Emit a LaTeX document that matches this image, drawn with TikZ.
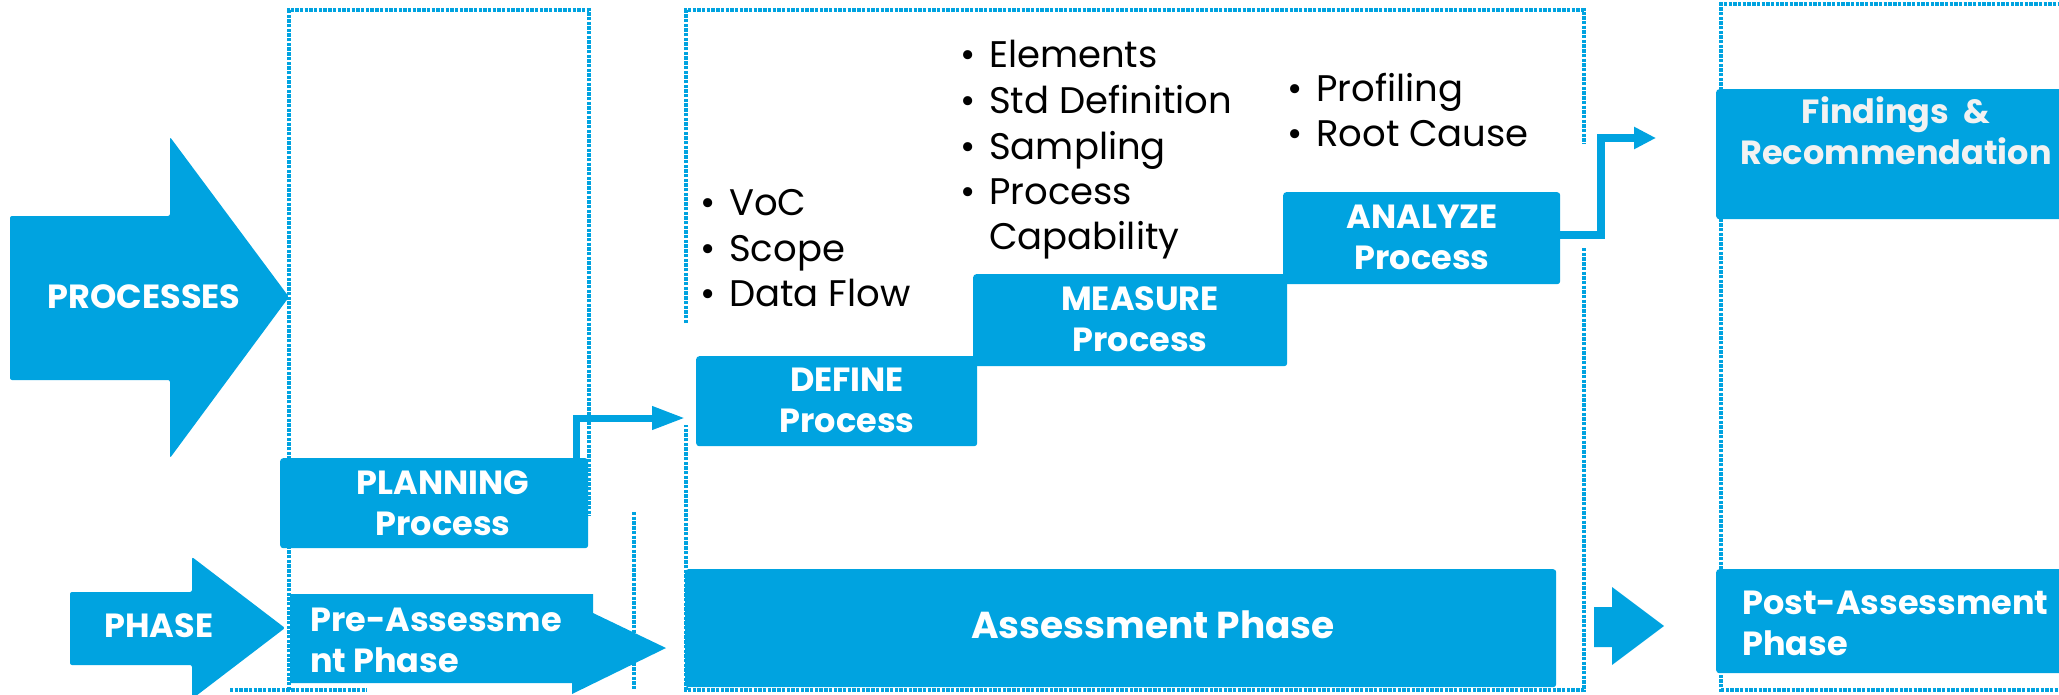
\documentclass[tikz,border=0pt]{standalone}
\usepackage{fontspec}
\setmainfont{Poppins}
\usetikzlibrary{arrows.meta,calc}
\definecolor{brand}{HTML}{00A3E0}
\definecolor{offwhite}{HTML}{F2F2F2}
\newcommand{\bl}{\makebox[29pt][l]{•}}
\begin{document}
\begin{tikzpicture}[x=1pt,y=-1pt,
  dots/.style={brand, line width=3.6pt, dash pattern=on 3.4pt off 1.3pt},
  bluebox/.style={fill=brand, draw=none, rounded corners=3pt, inner sep=0pt, anchor=north west},
  lbl/.style={text=white, font=\fontsize{33.5}{41}\selectfont\bfseries, align=center, inner sep=0pt},
  lbll/.style={lbl, align=left, anchor=west},
  blt/.style={text=black, font=\fontsize{37}{45}\selectfont, anchor=base west, inner sep=0pt},
  conn/.style={brand, line width=7pt},
  bigarrow/.style={fill=brand, draw=none, rounded corners=2pt}]
\useasboundingbox (0,0) rectangle (2059,694);

% dotted frames
\draw[dots] (289,690) -- (289,10) -- (589,10) -- (589,516);
\draw[dots] (230,690) -- (367,690);
\draw[dots] (634,512) -- (634,690);
\draw[dots] (686,323) -- (686,10) -- (1584,10) -- (1584,144);
\draw[dots] (1584,248) -- (1584,690) -- (686,690) -- (686,425);
\draw[dots] (1721,692) -- (1721,4) -- (2059,4);
\draw[dots] (1721,690) -- (2059,690);

% big arrows
\fill[bigarrow] (10,216) -- (170,216) -- (170,137) -- (289,297) -- (170,458) -- (170,380) -- (10,380) -- cycle;
\node[lbl] (processes) at (144,297) {PROCESSES};
\fill[bigarrow] (70,592) -- (192,592) -- (192,557) -- (285,628) -- (192,699) -- (192,665) -- (70,665) -- cycle;
\node[lbl] (phase) at (159,626) {PHASE};
\fill[brand] (290,594) -- (593,594) -- (593,613) -- (666,648) -- (572,694) -- (572,683) -- (290,683) -- cycle;
\node[lbll] (pre) at (310,640) {Pre-Assessme\\nt Phase};
\fill[brand] (1594,607) -- (1612,607) -- (1612,587) -- (1664,626) -- (1612,665) -- (1612,647) -- (1594,647) -- cycle;

% boxes
\node[bluebox, minimum width=308pt, minimum height=90pt] (plan) at (280,458) {};
\node[lbl] (plant) at (443,503) {PLANNING\\Process};
\node[bluebox, minimum width=281pt, minimum height=90pt] (def) at (696,356) {};
\node[lbl] (deft) at (847,400) {DEFINE\\Process};
\node[bluebox, minimum width=314pt, minimum height=92pt] (mea) at (973,274) {};
\node[lbl] (meat) at (1140,319) {MEASURE\\Process};
\node[bluebox, minimum width=277pt, minimum height=92pt] (an) at (1283,192) {};
\node[lbl] (ant) at (1422,237) {ANALYZE\\Process};
\node[bluebox, minimum width=871pt, minimum height=118pt] (ass) at (685,569) {};
\node[lbl, font=\fontsize{37.5}{41}\selectfont\bfseries] (asst) at (1153,625) {Assessment Phase};
\node[bluebox, minimum width=360pt, minimum height=130pt] (find) at (1716,89) {};
\node[lbl, text=offwhite] (findt) at (1896,131) {Findings\ \ \&\\Recommendation};
\node[bluebox, minimum width=360pt, minimum height=104pt] (post) at (1716,569) {};
\node[lbll] (postt) at (1742,623) {Post-Assessment\\Phase};

% connectors
\coordinate (pv) at (576,0);
\coordinate (dtip) at (685,418);
\draw[conn, -{Triangle[length=33pt,width=22pt]}] (plan.north -| pv) |- (dtip);
\coordinate (av) at (1601,235);
\coordinate (ftip) at (1656,138);
\draw[conn, line width=8pt, -{Triangle[length=22pt,width=21pt]}] (an.east |- av) -- (av) |- (ftip);

% bullet lists
\node[blt] (l1a) at (700,215) {\bl VoC};
\node[blt] (l1b) at (700,261) {\bl Scope};
\node[blt] (l1c) at (700,306) {\bl Data Flow};
\node[blt] (l2a) at (960,67) {\bl Elements};
\node[blt] (l2b) at (960,113) {\bl Std Definition};
\node[blt] (l2c) at (960,159) {\bl Sampling};
\node[blt] (l2d) at (960,204) {\bl Process};
\node[blt] (l2e) at (960,249) {\hspace*{29pt}Capability};
\node[blt] (l3a) at (1287,101) {\bl Profiling};
\node[blt] (l3b) at (1287,146) {\bl Root Cause};
\end{tikzpicture}
\end{document}
